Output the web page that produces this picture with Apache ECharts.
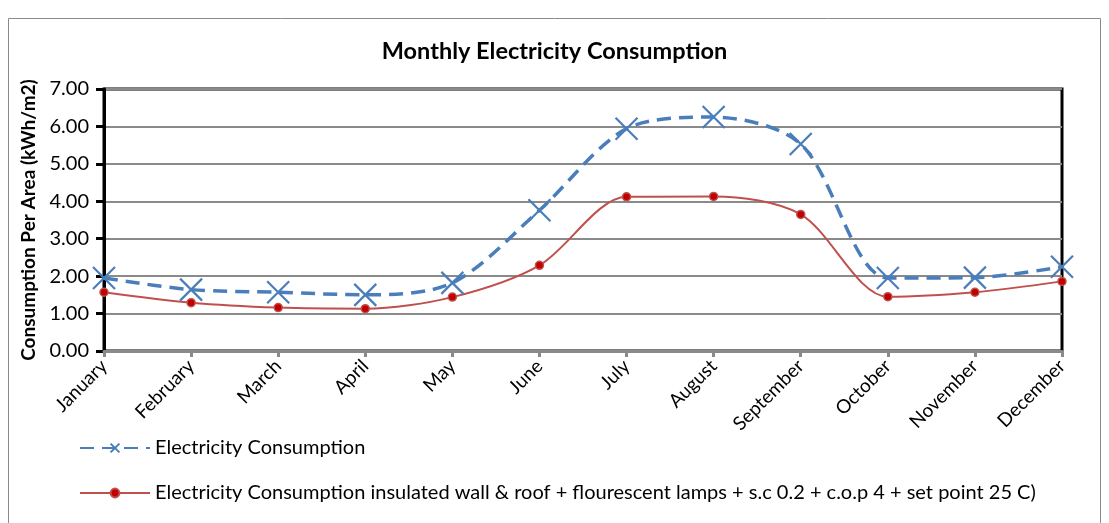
<!DOCTYPE html>
<html>
<head>
<meta charset="utf-8">
<script src="https://cdn.jsdelivr.net/npm/echarts@6/dist/echarts.min.js"></script>
<style>
  html, body { margin: 0; padding: 0; background: #fff; }
  #chart { width: 1109px; height: 523px; }
</style>
</head>
<body>
<div id="chart"></div>
<script>
var months = ['January', 'February', 'March', 'April', 'May', 'June', 'July',
	'August', 'September', 'October', 'November', 'December'];

// values
var baseConsumption = [1.95, 1.64, 1.57, 1.50, 1.82, 3.76, 5.94, 6.25, 5.53, 1.95, 1.96, 2.25];
var improvedConsumption = [1.57, 1.29, 1.16, 1.13, 1.44, 2.29, 4.12, 4.13, 3.65, 1.45, 1.57, 1.86];

var seriesNames = [
	'Electricity Consumption',
	'Electricity Consumption insulated wall & roof + flourescent lamps + s.c 0.2 + c.o.p 4 + set point 25 C)'
];

var font = 'Lato, "Open Sans", sans-serif';
var crossPath = 'path://M0,0L10,10M10,0L0,10';

var chart = echarts.init(document.getElementById('chart'));

chart.setOption({
	animation: false,
	textStyle: { fontFamily: font },
	title: {
		text: 'Monthly Electricity Consumption',
		left: 'center',
		top: 34,
		textStyle: { fontSize: 23.5, fontWeight: 'bold', color: '#000', fontFamily: font }
	},
	graphic: [
		{
			type: 'rect',
			shape: { x: 8.5, y: 18.5, width: 1092, height: 520 },
			style: { fill: 'none', stroke: '#8a8a8a', lineWidth: 1 },
			silent: true
		}
	],
	legend: {
		orient: 'vertical',
		left: 74,
		top: 433,
		itemGap: 25,
		itemWidth: 70,
		itemHeight: 11,
		textStyle: { fontSize: 20, color: '#000', fontFamily: font },
		data: seriesNames
	},
	grid: {
		left: 104,
		right: 47,
		top: 89,
		bottom: 172,
		show: true,
		borderColor: '#000',
		borderWidth: 3
	},
	xAxis: {
		type: 'category',
		boundaryGap: false,
		data: months,
		z: 5,
		axisLine: { lineStyle: { color: '#8a8a8a', width: 3 } },
		axisTick: { show: true, length: 6, lineStyle: { color: '#8a8a8a', width: 3 } },
		axisLabel: { rotate: 45, fontSize: 19, color: '#000', margin: 12, fontFamily: font }
	},
	yAxis: {
		type: 'value',
		min: 0,
		max: 7,
		interval: 1,
		name: 'Consumption Per Area (kWh/m2)',
		nameLocation: 'middle',
		nameGap: 66,
		nameTextStyle: { fontSize: 19, fontWeight: 'bold', color: '#000', fontFamily: font },
		axisLine: { show: true, lineStyle: { color: '#000', width: 3 } },
		axisTick: { show: true, length: 8, lineStyle: { color: '#000', width: 3 } },
		axisLabel: {
			fontSize: 20,
			color: '#000',
			margin: 15,
			fontFamily: font,
			formatter: function (v) { return v.toFixed(2); }
		},
		splitLine: { show: true, lineStyle: { color: '#8a8a8a', width: 2 } }
	},
	series: [
		{
			name: seriesNames[0],
			type: 'line',
			data: baseConsumption,
			smooth: 0.3,
			symbol: crossPath,
			symbolSize: 22,
			z: 3,
			lineStyle: { color: '#4a7ebb', width: 3.5, type: [14, 8] },
			itemStyle: { color: '#4a7ebb', borderColor: '#4a7ebb', borderWidth: 2.2 }
		},
		{
			name: seriesNames[1],
			type: 'line',
			data: improvedConsumption,
			smooth: 0.3,
			symbol: 'circle',
			symbolSize: 8,
			z: 2,
			lineStyle: { color: '#c0504d', width: 2 },
			itemStyle: { color: '#c00000', borderColor: '#c0504d', borderWidth: 1.5 }
		}
	]
});
</script>
</body>
</html>
